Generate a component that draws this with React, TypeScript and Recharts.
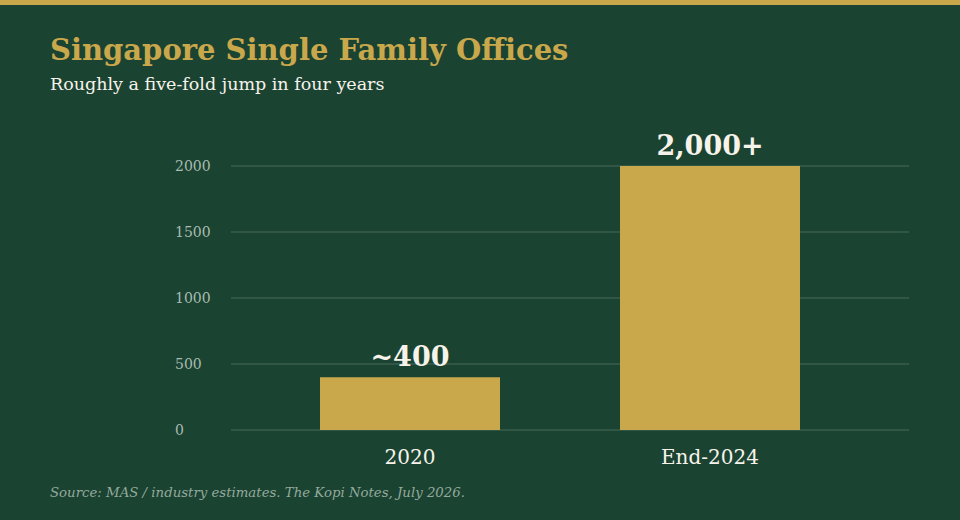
import React from 'react';
import { BarChart, Bar, XAxis, YAxis, CartesianGrid, LabelList } from 'recharts';

const categories = ['2020', 'End-2024'];
const offices = [400, 2000];
const valueLabels = ['~400', '2,000+'];
const yTicks = [0, 500, 1000, 1500, 2000];

const data = categories.map((c, i) => ({ period: c, count: offices[i], label: valueLabels[i] }));

const BG = '#1b4332';
const GOLD = '#c9a84c';
const FONT = "Georgia, 'DejaVu Serif', serif";

const YTick = (props: any) => {
  const { y, payload } = props;
  return (
    <text x={175} y={y} dy={5} textAnchor="start" fill="#a9bcb0" fontSize={14} fontFamily={FONT}>
      {payload.value}
    </text>
  );
};

const App: React.FC = () => {
  return (
    <div style={{ position: 'absolute', top: 0, left: 0, width: 960, height: 520, background: BG, fontFamily: FONT, overflow: 'hidden' }}>
      <div style={{ height: 5, background: GOLD }} />
      <div style={{ position: 'absolute', left: 50, top: 33, color: GOLD, fontSize: 29, fontWeight: 'bold', whiteSpace: 'nowrap' }}>
        Singapore Single Family Offices
      </div>
      <div style={{ position: 'absolute', left: 50, top: 74, color: '#f7f3ea', fontSize: 17.5, whiteSpace: 'nowrap' }}>
        Roughly a five-fold jump in four years
      </div>
      <div style={{ position: 'absolute', top: 0, left: 0 }}>
        <BarChart width={960} height={520} data={data} margin={{ top: 166, right: 51, bottom: 50, left: 0 }} barCategoryGap="20%">
          <CartesianGrid vertical={false} stroke="#4a6b5b" strokeWidth={1} />
          <XAxis
            dataKey="period"
            axisLine={false}
            tickLine={false}
            height={40}
            padding={{ left: 29, right: 49 }}
            tick={{ fill: '#f7f3ea', fontSize: 20, fontFamily: FONT }}
            tickMargin={14}
          />
          <YAxis
            width={231}
            domain={[0, 2000]}
            ticks={yTicks}
            axisLine={false}
            tickLine={false}
            tick={<YTick />}
          />
          <Bar dataKey="count" fill={GOLD} isAnimationActive={false}>
            <LabelList dataKey="label" position="top" offset={11} fill="#f7f3ea" fontSize={27} fontWeight="bold" fontFamily={FONT} />
          </Bar>
        </BarChart>
      </div>
      <div style={{ position: 'absolute', left: 50, top: 485, color: '#93aa9c', fontSize: 13.3, fontStyle: 'italic', whiteSpace: 'nowrap' }}>
        Source: MAS / industry estimates. The Kopi Notes, July 2026.
      </div>
    </div>
  );
};

export default App;
